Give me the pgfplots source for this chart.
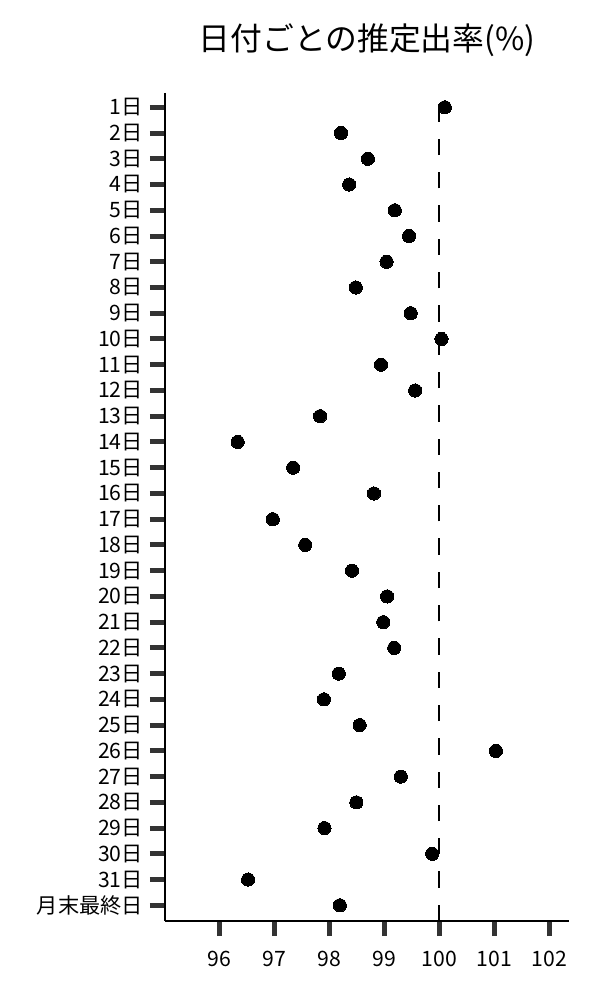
\documentclass[border=0pt]{standalone}
\usepackage{fontspec}
\setmainfont{Noto Sans CJK JP}
\usepackage{pgfplots}
\usepackage{pgfplotstable}
\pgfplotsset{compat=1.18}
\definecolor{tickgray}{HTML}{333333}
\pgfplotstableread{
y v
0 100.10
1 98.21
2 98.70
3 98.36
4 99.19
5 99.45
6 99.04
7 98.48
8 99.48
9 100.04
10 98.94
11 99.56
12 97.83
13 96.33
14 97.34
15 98.81
16 96.97
17 97.56
18 98.41
19 99.05
20 98.98
21 99.18
22 98.17
23 97.90
24 98.55
25 101.03
26 99.30
27 98.49
28 97.91
29 99.87
30 96.52
31 98.19
}\datatable
\begin{document}
\begin{tikzpicture}
\begin{axis}[
  scale only axis, width=202pt, height=414pt,
  xmin=95.008, xmax=102.36,
  ymin=-0.556, ymax=31.61, y dir=reverse,
  axis x line=bottom, axis y line=left,
  x axis line style={-, line width=0.65pt, black},
  y axis line style={-, line width=0.65pt, black},
  xtick={96,97,98,99,100,101,102},
  ytick={0,...,31},
  yticklabels={1日,2日,3日,4日,5日,6日,7日,8日,9日,10日,11日,12日,13日,14日,15日,16日,17日,18日,19日,20日,21日,22日,23日,24日,25日,26日,27日,28日,29日,30日,31日,月末最終日},
  tick align=outside,
  major tick length=7.5pt,
  tick style={line width=2.5pt, color=tickgray},
  /pgf/number format/assume math mode=true,
  tick label style={font=\fontsize{10.6}{12}\selectfont},
  xticklabel style={yshift=-4pt},
  title={日付ごとの推定出率(\%)},
  title style={at={(0.5,1)}, anchor=base, yshift=15pt, font=\fontsize{15.9}{18}\selectfont},
  clip=false,
]
\addplot[black, line width=1pt, dash pattern=on 8.15pt off 8.5pt, forget plot] coordinates {(100,31.61) (100,-0.556)};
\addplot[only marks, mark=*, mark size=3.3pt, mark options={fill=black, draw=black, line width=0pt}] table[x=v, y=y] {\datatable};
\coordinate (bl) at (axis description cs:-0.4084,-0.0954);
\coordinate (tr) at (axis description cs:1.0767,1.1123);
\end{axis}
\path (bl) rectangle (tr);
\end{tikzpicture}
\end{document}
